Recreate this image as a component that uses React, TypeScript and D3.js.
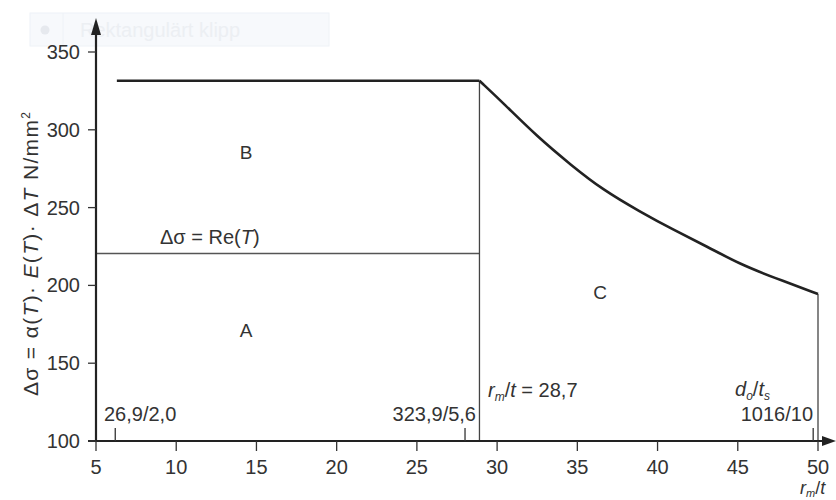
import React from "react";
import * as d3 from "d3";

const xTicks = [5, 10, 15, 20, 25, 30, 35, 40, 45, 50];
const yTicks = [100, 150, 200, 250, 300, 350];

// plateau (region B upper bound)
const plateauX = [6.3, 28.9];
const plateauY = 331.5;
// Re(T) line
const reY = 220.5;
// descending curve (region C upper bound)
const curveX = [28.9, 30.4, 32.5, 34.6, 36.6, 38.9, 41.0, 43.1, 45.1, 47.2, 50];
const curveY = [331.5, 317, 295.6, 277.4, 261.3, 247.4, 235.6, 224.9, 213.8, 205.2, 194.5];
// small pipe markers on x axis
const markerX = [6.2, 28.0, 49.7];
const markerLabels = ["26,9/2,0", "323,9/5,6", "1016/10"];

export default function App() {
  const W = 836, H = 500;
  const x = d3.scaleLinear().domain([5, 50]).range([96, 818]);
  const y = d3.scaleLinear().domain([100, 350]).range([441, 52]);
  const font = "'Liberation Sans', Arial, sans-serif";
  const txt = "#333";
  const curvePts: [number, number][] = curveX.map((v, i) => [v, curveY[i]]);
  const line = d3.line<[number, number]>().x(d => x(d[0])).y(d => y(d[1])).curve(d3.curveBasis);
  const x0 = x(5), yBase = y(100);

  return (
    <svg width={W} height={H} style={{ position: "absolute", left: 0, top: 0, background: "#fff" }} fontFamily={font}>
      {/* faint overlay artifact */}
      <rect x={30} y={13} width={299} height={33} fill="#f7f9fc" stroke="#eef2f7" />
      <line x1={63} y1={13} x2={63} y2={46} stroke="#eef2f7" />
      <circle cx={45} cy={30} r={4.5} fill="#e6e9ee" />
      <text x={80} y={37} fontSize={20} fill="#eceff3">Rektangulärt klipp</text>

      {/* region lines */}
      <line x1={x0} y1={y(reY)} x2={x(28.9)} y2={y(reY)} stroke="#555" strokeWidth={1.3} />
      <line x1={x(28.9)} y1={yBase} x2={x(28.9)} y2={y(plateauY)} stroke="#444" strokeWidth={1.3} />
      <line x1={x(50)} y1={yBase} x2={x(50)} y2={y(curveY[curveY.length - 1])} stroke="#444" strokeWidth={1.3} />
      <line x1={x(plateauX[0])} y1={y(plateauY)} x2={x(plateauX[1])} y2={y(plateauY)} stroke="#222" strokeWidth={2.6} />
      <path d={line(curvePts) || ""} fill="none" stroke="#222" strokeWidth={2.6} strokeLinejoin="round" />

      {/* axes */}
      <line x1={x0} y1={yBase + 1} x2={x0} y2={30} stroke="#222" strokeWidth={2.2} />
      <path d={`M${x0},18 L${x0 - 5},35 L${x0 + 5},35 Z`} fill="#222" />
      <line x1={88} y1={yBase} x2={826} y2={yBase} stroke="#222" strokeWidth={2.2} />
      <path d={`M836,${yBase} L822,${yBase - 5} L822,${yBase + 5} Z`} fill="#222" />

      {yTicks.map(t => (
        <g key={"y" + t}>
          <line x1={88} x2={x0} y1={y(t)} y2={y(t)} stroke="#333" strokeWidth={1.3} />
          <text x={80} y={y(t) + 7} fontSize={20} textAnchor="end" fill={txt}>{t}</text>
        </g>
      ))}
      {xTicks.map(t => (
        <g key={"x" + t}>
          <line x1={x(t)} x2={x(t)} y1={yBase} y2={yBase + 10} stroke="#333" strokeWidth={1.3} />
          <text x={x(t)} y={yBase + 33} fontSize={20} textAnchor="middle" fill={txt}>{t}</text>
        </g>
      ))}
      {markerX.map(m => (
        <line key={"m" + m} x1={x(m)} x2={x(m)} y1={yBase - 13} y2={yBase} stroke="#333" strokeWidth={1.3} />
      ))}
      <text x={104} y={421} fontSize={20} fill={txt}>{markerLabels[0]}</text>
      <text x={476} y={421} fontSize={20} textAnchor="end" fill={txt}>{markerLabels[1]}</text>
      <text x={813} y={421} fontSize={20} textAnchor="end" fill={txt}>{markerLabels[2]}</text>
      <text x={735} y={396} fontSize={20} fill={txt}>
        <tspan fontStyle="italic">d</tspan><tspan fontSize={12} dy={4} fontStyle="italic">o</tspan>
        <tspan dy={-4}>/</tspan><tspan fontStyle="italic">t</tspan><tspan fontSize={12} dy={4} fontStyle="italic">s</tspan>
      </text>
      <text x={488} y={397} fontSize={20} fill={txt}>
        <tspan fontStyle="italic">r</tspan><tspan fontSize={12} dy={4} fontStyle="italic">m</tspan>
        <tspan dy={-4}>/</tspan><tspan fontStyle="italic">t</tspan> = 28,7
      </text>
      <text x={800} y={494} fontSize={18} fill={txt}>
        <tspan fontStyle="italic">r</tspan><tspan fontSize={11} dy={3} fontStyle="italic">m</tspan>
        <tspan dy={-3}>/</tspan><tspan fontStyle="italic">t</tspan>
      </text>

      <text x={160} y={244} fontSize={20} fill={txt}>
        Δσ = Re(<tspan fontStyle="italic">T</tspan>)
      </text>
      <text x={246} y={159} fontSize={19} textAnchor="middle" fill={txt}>B</text>
      <text x={246} y={337} fontSize={19} textAnchor="middle" fill={txt}>A</text>
      <text x={600} y={299} fontSize={19} textAnchor="middle" fill={txt}>C</text>

      <text transform="translate(38,254) rotate(-90)" fontSize={21} textAnchor="middle" fill={txt}
        textLength={284} lengthAdjust="spacing">
        Δσ = α(<tspan fontStyle="italic">T</tspan>)· <tspan fontStyle="italic">E</tspan>(<tspan fontStyle="italic">T</tspan>)· Δ<tspan fontStyle="italic">T</tspan> N/mm<tspan fontSize={12} dy={-8}>2</tspan>
      </text>
    </svg>
  );
}
